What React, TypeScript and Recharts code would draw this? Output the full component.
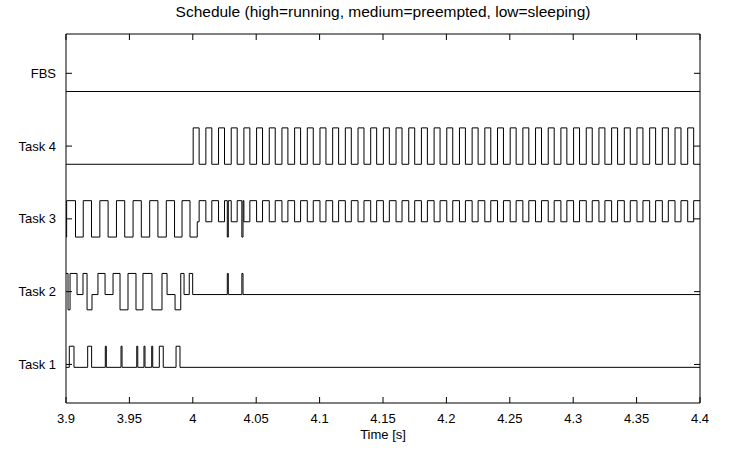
import { LineChart, Line, XAxis, YAxis } from 'recharts';

// task states: sleeping, preempted, running
const S = 0;
const P = 1;
const R = 2;

const rowNames = ['Task 1', 'Task 2', 'Task 3', 'Task 4', 'FBS'];
const rowTicks = [1, 2, 3, 4, 5];
const timeTicks = [3.9, 3.95, 4, 4.05, 4.1, 4.15, 4.2, 4.25, 4.3, 4.35, 4.4];

// [time, state] transitions per task
const fbs: [number, number][] = [[3.9, S], [4.4, S]];

const task4: [number, number][] = [
  [3.9, S],
  [4.0003, R], [4.005, S], [4.0103, R], [4.015, S], [4.0203, R], [4.025, S], [4.0303, R], [4.035, S],
  [4.0403, R], [4.045, S], [4.0503, R], [4.055, S], [4.0603, R], [4.065, S], [4.0703, R], [4.075, S],
  [4.0803, R], [4.085, S], [4.0903, R], [4.095, S], [4.1003, R], [4.105, S], [4.1103, R], [4.115, S],
  [4.1203, R], [4.125, S], [4.1303, R], [4.135, S], [4.1403, R], [4.145, S], [4.1503, R], [4.155, S],
  [4.1603, R], [4.165, S], [4.1703, R], [4.175, S], [4.1803, R], [4.185, S], [4.1903, R], [4.195, S],
  [4.2003, R], [4.205, S], [4.2103, R], [4.215, S], [4.2203, R], [4.225, S], [4.2303, R], [4.235, S],
  [4.2403, R], [4.245, S], [4.2503, R], [4.255, S], [4.2603, R], [4.265, S], [4.2703, R], [4.275, S],
  [4.2803, R], [4.285, S], [4.2903, R], [4.295, S], [4.3003, R], [4.305, S], [4.3103, R], [4.315, S],
  [4.3203, R], [4.325, S], [4.3303, R], [4.335, S], [4.3403, R], [4.345, S], [4.3503, R], [4.355, S],
  [4.3603, R], [4.365, S], [4.3703, R], [4.375, S], [4.3803, R], [4.385, S], [4.3903, R], [4.395, S],
  [4.4, S],
];

const task3: [number, number][] = [
  [3.9, S], [3.9005, R], [3.9075, S], [3.9136, R], [3.9201, S], [3.9267, R], [3.9332, S], [3.9398, R],
  [3.9463, S], [3.9529, R], [3.9594, S], [3.966, R], [3.9725, S], [3.9791, R], [3.9856, S], [3.9915, R],
  [3.9978, S], [4.0035, P], [4.005, R], [4.0103, P], [4.015, R], [4.0203, P], [4.025, R], [4.0272, S],
  [4.028, R], [4.0303, P], [4.035, R], [4.0387, S], [4.0396, R], [4.0403, P], [4.045, R], [4.0503, P],
  [4.055, R], [4.0603, P], [4.065, R], [4.0703, P], [4.075, R], [4.0803, P], [4.085, R], [4.0903, P],
  [4.095, R], [4.1003, P], [4.105, R], [4.1103, P], [4.115, R], [4.1203, P], [4.125, R], [4.1303, P],
  [4.135, R], [4.1403, P], [4.145, R], [4.1503, P], [4.155, R], [4.1603, P], [4.165, R], [4.1703, P],
  [4.175, R], [4.1803, P], [4.185, R], [4.1903, P], [4.195, R], [4.2003, P], [4.205, R], [4.2103, P],
  [4.215, R], [4.2203, P], [4.225, R], [4.2303, P], [4.235, R], [4.2403, P], [4.245, R], [4.2503, P],
  [4.255, R], [4.2603, P], [4.265, R], [4.2703, P], [4.275, R], [4.2803, P], [4.285, R], [4.2903, P],
  [4.295, R], [4.3003, P], [4.305, R], [4.3103, P], [4.315, R], [4.3203, P], [4.325, R], [4.3303, P],
  [4.335, R], [4.3403, P], [4.345, R], [4.3503, P], [4.355, R], [4.3603, P], [4.365, R], [4.3703, P],
  [4.375, R], [4.3803, P], [4.385, R], [4.3903, P], [4.395, R], [4.4, R],
];

const task2: [number, number][] = [
  [3.9, R], [3.9016, S], [3.9032, R], [3.9087, P], [3.9134, R], [3.9166, S], [3.9205, P], [3.9252, R],
  [3.9308, P], [3.9371, R], [3.9426, S], [3.9489, R], [3.9552, S], [3.9607, R], [3.9678, S], [3.9757, R],
  [3.9797, P], [3.986, S], [3.9905, R], [3.9931, P], [3.9972, R], [3.9999, P], [4.0272, R], [4.028, P],
  [4.0387, R], [4.0396, P], [4.4, P],
];

const task1: [number, number][] = [
  [3.9, P], [3.9026, R], [3.9063, P], [3.9171, R], [3.9202, P], [3.931, R], [3.9318, P], [3.9434, R],
  [3.9442, P], [3.9558, R], [3.9566, P], [3.9615, R], [3.9623, P], [3.9676, R], [3.9684, P], [3.9736, R],
  [3.9767, P], [3.9868, R], [3.9899, P], [4.4, P],
];

// vertical offset of each state within a task row
const levelOffset = [-0.25, -0.04, 0.25];

const toPoints = (rows: [number, number][], row: number) =>
  rows.map(([t, s]) => ({ t, v: row + levelOffset[s] }));

const series = [
  { key: 'task1', data: toPoints(task1, 1) },
  { key: 'task2', data: toPoints(task2, 2) },
  { key: 'task3', data: toPoints(task3, 3) },
  { key: 'task4', data: toPoints(task4, 4) },
  { key: 'fbs', data: toPoints(fbs, 5) },
];

const font = '"Liberation Sans", Arial, Helvetica, sans-serif';

const BottomTick = ({ x, y, payload }: any) => (
  <g>
    <line x1={x} y1={y} x2={x} y2={y - 6} stroke="#000" />
    <text x={x} y={y + 20} textAnchor="middle" fontSize={13} fontFamily={font} fill="#000">
      {payload.value}
    </text>
  </g>
);

const TopTick = ({ x, y }: any) => <line x1={x} y1={y} x2={x} y2={y + 6} stroke="#000" />;

const LeftTick = ({ x, y, payload }: any) => (
  <g>
    <line x1={x} y1={y} x2={x + 6} y2={y} stroke="#000" />
    <text x={x - 10} y={y} dy="0.35em" textAnchor="end" fontSize={13} fontFamily={font} fill="#000">
      {rowNames[payload.value - 1]}
    </text>
  </g>
);

const RightTick = ({ x, y }: any) => <line x1={x} y1={y} x2={x - 6} y2={y} stroke="#000" />;

export default function App() {
  return (
    <div style={{ position: 'absolute', left: 0, top: 0, width: 739, height: 454, background: '#fff' }}>
      <div
        style={{
          position: 'absolute', left: 66, width: 634, top: 3, textAlign: 'center',
          fontFamily: font, fontSize: 15.5, color: '#000', whiteSpace: 'nowrap',
        }}
      >
        Schedule (high=running, medium=preempted, low=sleeping)
      </div>
      <div
        style={{
          position: 'absolute', left: 66, width: 634, top: 427, textAlign: 'center',
          fontFamily: font, fontSize: 13, color: '#000',
        }}
      >
        Time [s]
      </div>
      <LineChart width={739} height={454} margin={{ top: 33, right: 38, bottom: 21, left: 0 }}>
        <XAxis
          xAxisId="b" dataKey="t" type="number" domain={[3.9, 4.4]} ticks={timeTicks}
          allowDataOverflow height={30} tickLine={false} tickSize={0} tickMargin={0}
          axisLine={{ stroke: '#000' }} tick={<BottomTick />} interval={0}
        />
        <XAxis
          xAxisId="t" orientation="top" dataKey="t" type="number" domain={[3.9, 4.4]} ticks={timeTicks}
          allowDataOverflow height={1} tickLine={false} tickSize={0} tickMargin={0}
          axisLine={{ stroke: '#000' }} tick={<TopTick />} interval={0}
        />
        <YAxis
          yAxisId="l" type="number" domain={[0.47, 5.54]} ticks={rowTicks} allowDataOverflow
          width={66} tickLine={false} tickSize={0} tickMargin={0}
          axisLine={{ stroke: '#000' }} tick={<LeftTick />} interval={0}
        />
        <YAxis
          yAxisId="r" orientation="right" type="number" domain={[0.47, 5.54]} ticks={rowTicks}
          allowDataOverflow width={1} tickLine={false} tickSize={0} tickMargin={0}
          axisLine={{ stroke: '#000' }} tick={<RightTick />} interval={0}
        />
        {series.map((s) => (
          <Line
            key={s.key} xAxisId="b" yAxisId="l" data={s.data} dataKey="v" type="stepAfter"
            stroke="#000" strokeWidth={1} dot={false} activeDot={false} isAnimationActive={false}
          />
        ))}
      </LineChart>
    </div>
  );
}
